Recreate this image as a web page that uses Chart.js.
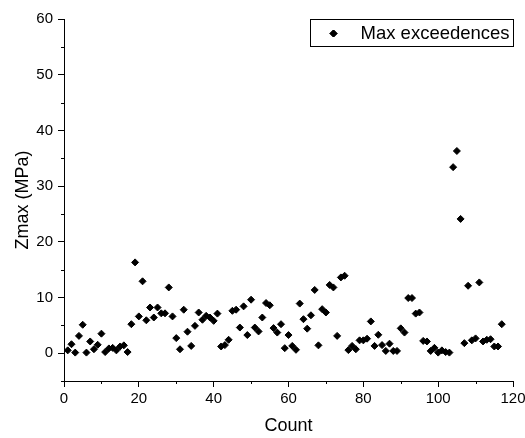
<!DOCTYPE html>
<html>
<head>
<meta charset="utf-8">
<script src="https://cdn.jsdelivr.net/npm/chart.js@4.4.1/dist/chart.umd.min.js"></script>
<style>
html,body{margin:0;padding:0;background:#fff;}
#wrap{width:525px;height:438px;position:relative;}
</style>
</head>
<body>
<div id="wrap"><canvas id="c" width="525" height="438"></canvas></div>
<script>
const seriesLabel = 'Max exceedences';
const counts = [1,2,3,4,5,6,7,8,9,10,11,12,13,14,15,16,17,18,19,20,
  21,22,23,24,25,26,27,28,29,30,31,32,33,34,35,36,37,38,39,40,
  41,42,43,44,45,46,47,48,49,50,51,52,53,54,55,56,57,58,59,60,
  61,62,63,64,65,66,67,68,69,70,71,72,73,74,75,76,77,78,79,80,
  81,82,83,84,85,86,87,88,89,90,91,92,93,94,95,96,97,98,99,100,
  101,102,103,104,105,106,107,108,109,110,111,112,113,114,115,116,117];
const zmax = [0.5,1.6,0.1,3.1,5.1,0.1,2.1,0.7,1.5,3.5,
  0.2,0.85,0.95,0.5,1.2,1.4,0.2,5.2,16.3,6.6,
  12.9,5.9,8.2,6.4,8.2,7.15,7.15,11.8,6.6,2.7,
  0.7,7.8,3.85,1.3,4.9,7.3,6.0,6.7,6.4,5.8,
  7.1,1.2,1.45,2.4,7.6,7.8,4.6,8.4,3.25,9.6,
  4.6,3.9,6.4,9.0,8.6,4.5,3.7,5.2,0.9,3.25,
  1.3,0.6,8.9,6.1,4.4,6.8,11.35,1.4,7.9,7.3,
  12.25,11.8,3.1,13.6,13.9,0.55,1.3,0.7,2.3,2.3,
  2.6,5.7,1.3,3.3,1.45,0.4,1.7,0.4,0.4,4.45,
  3.7,9.9,9.9,7.1,7.3,2.2,2.1,0.4,0.95,0.1,
  0.5,0.2,0.1,33.4,36.3,24.1,1.8,12.1,2.3,2.65,
  12.7,2.1,2.4,2.5,1.2,1.2,5.2];
const xMajorTicks = [0,20,40,60,80,100,120];
const xMinorTicks = [10,30,50,70,90,110];
const yMajorTicks = [0,10,20,30,40,50,60];
const yMinorTicks = [-5,5,15,25,35,45,55];
const xTitle = 'Count';
const yTitle = 'Zmax (MPa)';

const FONT = '"Liberation Sans", Arial, sans-serif';

const minorTicksPlugin = {
  id: 'minorTicks',
  afterDraw(chart) {
    const ctx = chart.ctx;
    const xs = chart.scales.x, ys = chart.scales.y;
    ctx.save();
    ctx.strokeStyle = '#000';
    ctx.lineWidth = 1;
    ctx.beginPath();
    xMinorTicks.forEach(v => {
      const px = Math.round(xs.getPixelForValue(v)) + 0.5;
      ctx.moveTo(px, xs.top);
      ctx.lineTo(px, xs.top + 3);
    });
    yMinorTicks.forEach(v => {
      const py = Math.round(ys.getPixelForValue(v)) + 0.5;
      ctx.moveTo(ys.right, py);
      ctx.lineTo(ys.right - 3, py);
    });
    ctx.stroke();
    ctx.restore();
  }
};

const boxLegendPlugin = {
  id: 'boxLegend',
  afterDraw(chart) {
    const ctx = chart.ctx;
    const ca = chart.chartArea;
    const ds = chart.data.datasets[0];
    const w = 203, h = 27;
    const left = Math.round(ca.right - w) + 0.5;
    const top = Math.round(ca.top) + 0.5;
    ctx.save();
    ctx.strokeStyle = '#000';
    ctx.lineWidth = 1;
    ctx.strokeRect(left, top, w, h);
    ctx.fillStyle = '#000';
    Chart.helpers.drawPoint(ctx, {pointStyle: 'rectRot', radius: 3.5, borderWidth: 1}, left + 23, top + 14);
    ctx.fill();
    ctx.stroke();
    ctx.font = '18.5px ' + FONT;
    ctx.textBaseline = 'middle';
    ctx.textAlign = 'left';
    ctx.fillText(ds.label, left + 50, top + 14);
    ctx.restore();
  }
};

new Chart(document.getElementById('c'), {
  type: 'scatter',
  data: {
    datasets: [{
      label: seriesLabel,
      data: counts.map((c, i) => ({x: c, y: zmax[i]})),
      pointStyle: 'rectRot',
      pointRadius: 3.5,
      pointHoverRadius: 3.5,
      borderWidth: 1,
      backgroundColor: '#000',
      borderColor: '#000'
    }]
  },
  options: {
    responsive: false,
    animation: false,
    events: [],
    layout: {padding: {top: 19, right: 12, left: 0, bottom: 0}},
    plugins: {legend: {display: false}, tooltip: {enabled: false}},
    scales: {
      x: {
        type: 'linear',
        min: 0, max: 120,
        afterBuildTicks: s => { s.ticks = xMajorTicks.map(v => ({value: v})); },
        afterFit: s => { s.height = 57; s.paddingLeft = 0; s.paddingRight = 0; },
        border: {display: true, color: '#000', width: 1},
        grid: {display: true, drawOnChartArea: false, drawTicks: true, tickLength: 6, tickColor: '#000', color: '#000'},
        ticks: {color: '#000', font: {family: FONT, size: 15}, padding: 3, maxRotation: 0},
        title: {display: true, text: xTitle, color: '#000', font: {family: FONT, size: 18}, padding: {top: 0, bottom: 1}}
      },
      y: {
        type: 'linear',
        min: -5, max: 60,
        afterBuildTicks: s => { s.ticks = yMajorTicks.map(v => ({value: v})); },
        afterFit: s => { s.width = 64; s.paddingTop = 0; s.paddingBottom = 0; },
        border: {display: true, color: '#000', width: 1},
        grid: {display: true, drawOnChartArea: false, drawTicks: true, tickLength: 6, tickColor: '#000', color: '#000'},
        ticks: {color: '#000', font: {family: FONT, size: 15}, padding: 5},
        title: {display: true, text: yTitle, color: '#000', font: {family: FONT, size: 18}, padding: {top: 12, bottom: 0}}
      }
    }
  },
  plugins: [minorTicksPlugin, boxLegendPlugin]
});
</script>
</body>
</html>
